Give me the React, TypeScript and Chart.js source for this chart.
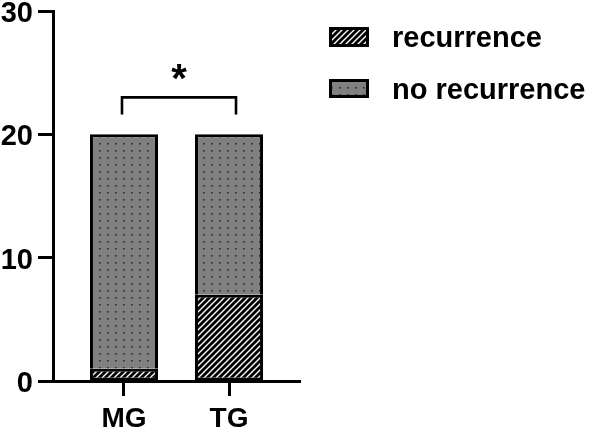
import React, { useEffect, useRef } from "react";
import { Chart, registerables } from "chart.js";

Chart.register(...registerables);

const categories = ["MG", "TG"];
const seriesLabels = ["recurrence", "no recurrence"];
const recurrence = [1, 7];
const noRecurrence = [19, 13];
const yTickValues = [0, 10, 20, 30];
const significance = "*";

const FONT = '"Liberation Sans", Arial, sans-serif';

function makeDots(): CanvasPattern | string {
  const c = document.createElement("canvas");
  c.width = 8;
  c.height = 7;
  const g = c.getContext("2d");
  if (!g) return "#808080";
  g.fillStyle = "#808080";
  g.fillRect(0, 0, 8, 7);
  g.fillStyle = "#2a2a2a";
  g.fillRect(3, 3, 1.6, 1.6);
  return g.createPattern(c, "repeat") as CanvasPattern;
}

function makeHatch(): CanvasPattern | string {
  const s = 6;
  const c = document.createElement("canvas");
  c.width = s;
  c.height = s;
  const g = c.getContext("2d");
  if (!g) return "#000";
  g.fillStyle = "#000";
  g.fillRect(0, 0, s, s);
  g.strokeStyle = "#fff";
  g.lineWidth = 1.4;
  g.beginPath();
  for (const k of [-s, 0, s]) {
    g.moveTo(-2 + k, s + 2);
    g.lineTo(s + 2 + k, -2);
  }
  g.stroke();
  return g.createPattern(c, "repeat") as CanvasPattern;
}

export default function App() {
  const ref = useRef<HTMLCanvasElement>(null);

  useEffect(() => {
    document.body.style.margin = "0";
    const canvas = ref.current;
    if (!canvas) return;
    const hatch = makeHatch();
    const dots = makeDots();

    const overlay = {
      id: "overlay",
      afterDraw(chart: any) {
        const ctx = chart.ctx;
        const xs = chart.scales.x;
        const ys = chart.scales.y;
        ctx.save();
        // significance bracket
        const x0 = xs.getPixelForValue(0) - 2;
        const x1 = xs.getPixelForValue(1) + 7;
        const yTop = ys.getPixelForValue(23);
        const yBot = ys.getPixelForValue(21.6);
        ctx.strokeStyle = "#000";
        ctx.lineWidth = 2.6;
        ctx.lineCap = "butt";
        ctx.lineJoin = "miter";
        ctx.beginPath();
        ctx.moveTo(x0, yBot);
        ctx.lineTo(x0, yTop);
        ctx.lineTo(x1, yTop);
        ctx.lineTo(x1, yBot);
        ctx.stroke();
        ctx.fillStyle = "#000";
        ctx.font = "bold 40px " + FONT;
        ctx.textAlign = "center";
        ctx.textBaseline = "alphabetic";
        ctx.fillText(significance, (x0 + x1) / 2, ys.getPixelForValue(23.4));

        // legend
        const fills = [hatch, dots];
        const boxes = [
          { y: 27, h: 20, base: 47 },
          { y: 79, h: 19, base: 99 },
        ];
        seriesLabels.forEach((lab, i) => {
          const b = boxes[i];
          ctx.fillStyle = "#000";
          ctx.fillRect(329, b.y, 40, b.h);
          ctx.fillStyle = fills[i] as any;
          ctx.fillRect(332, b.y + 3, 34, b.h - 6);
          ctx.fillStyle = "#000";
          ctx.font = "bold 29px " + FONT;
          ctx.textAlign = "left";
          ctx.textBaseline = "alphabetic";
          ctx.fillText(lab, 392, b.base);
        });
        ctx.restore();
      },
    };

    const chart = new Chart(canvas, {
      type: "bar",
      data: {
        datasets: [
          {
            label: seriesLabels[0],
            data: categories.map((_, i) => ({ x: i, y: recurrence[i] })),
            backgroundColor: hatch as any,
            borderColor: "#000",
            borderWidth: 3,
            borderSkipped: false,
          },
          {
            label: seriesLabels[1],
            data: categories.map((_, i) => ({ x: i, y: noRecurrence[i] })),
            backgroundColor: dots as any,
            borderColor: "#000",
            borderWidth: 3,
            borderSkipped: "bottom",
          },
        ],
      },
      options: {
        responsive: false,
        animation: false,
        devicePixelRatio: 1,
        layout: { padding: { left: 0, top: 11, right: 295, bottom: 0 } },
        datasets: { bar: { categoryPercentage: 1, barPercentage: 0.648 } },
        plugins: { legend: { display: false }, tooltip: { enabled: false } },
        scales: {
          x: {
            type: "linear",
            stacked: true,
            offset: false,
            min: -0.676,
            max: 1.676,
            afterBuildTicks: (s: any) => {
              s.ticks = categories.map((_, i) => ({ value: i }));
            },
            afterFit: (s: any) => {
              s.height = 51;
              s.paddingLeft = 0;
              s.paddingRight = 0;
            },
            grid: {
              display: true,
              offset: false,
              drawOnChartArea: false,
              drawTicks: true,
              tickLength: 15,
              tickWidth: 3,
              tickColor: "#000",
            },
            border: { display: true, color: "#000", width: 3 },
            ticks: {
              color: "#000",
              padding: 6,
              font: { family: FONT, size: 28, weight: "bold" },
              callback: (v: any) => categories[Math.round(Number(v))] ?? "",
            },
          },
          y: {
            stacked: true,
            min: 0,
            max: 30,
            afterBuildTicks: (s: any) => {
              s.ticks = yTickValues.map((v) => ({ value: v }));
            },
            afterFit: (s: any) => {
              s.width = 53;
              s.paddingTop = 0;
              s.paddingBottom = 0;
            },
            grid: {
              display: true,
              drawOnChartArea: false,
              drawTicks: true,
              tickLength: 15,
              tickWidth: 3,
              tickColor: "#000",
            },
            border: { display: true, color: "#000", width: 3 },
            ticks: {
              color: "#000",
              padding: 5,
              labelOffset: 3,
              font: { family: FONT, size: 29, weight: "bold" },
            },
          },
        },
      },
      plugins: [overlay],
    } as any);

    return () => chart.destroy();
  }, []);

  return (
    <div style={{ width: 595, height: 432, background: "#fff" }}>
      <canvas ref={ref} width={595} height={432} style={{ display: "block" }} />
    </div>
  );
}
